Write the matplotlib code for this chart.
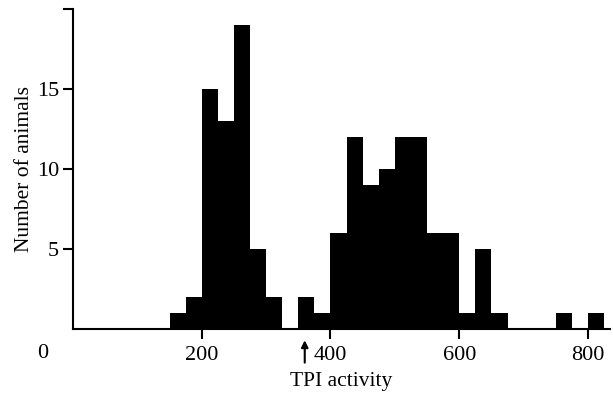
import matplotlib
matplotlib.use("Agg")
from matplotlib import pyplot as plt
import matplotlib.transforms as mtransforms

plt.rcParams['font.family'] = ['Liberation Serif', 'DejaVu Serif']

# histogram of TPI activity, bins of 25 units
bin_left = [150, 175, 200, 225, 250, 275, 300, 325, 350, 375,
            400, 425, 450, 475, 500, 525, 550, 575, 600, 625,
            650, 675, 700, 725, 750, 775, 800]
counts = [1, 2, 15, 13, 19, 5, 2, 0, 2, 1,
          6, 12, 9, 10, 12, 12, 6, 6, 1, 5,
          1, 0, 0, 0, 1, 0, 1]
bin_width = 25

xticks = [200, 400, 600, 800]
yticks = [5, 10, 15, 20]
yticklabels = ['5', '10', '15', '']
arrow_x = 360

fig = plt.figure(figsize=(6.13, 3.96), dpi=100)
ax = fig.add_axes([0.119, 0.169, 0.876, 0.808])

edges = bin_left + [bin_left[-1] + bin_width]
ax.stairs(counts, edges, fill=True, color='black', linewidth=0)

ax.set_xlim(0, 834)
ax.set_ylim(0, 20)
ax.spines['top'].set_visible(False)
ax.spines['right'].set_visible(False)
ax.spines['left'].set_linewidth(1.5)
ax.spines['bottom'].set_linewidth(1.5)

ax.set_xticks(xticks)
ax.set_xticklabels([str(t) for t in xticks], fontsize=16)
ax.set_yticks(yticks)
ax.set_yticklabels(yticklabels, fontsize=16)
ax.tick_params(axis='x', direction='out', length=7, width=1.5, pad=5)
ax.tick_params(axis='y', direction='out', length=7, width=1.5, pad=3)

ax.set_xlabel('TPI activity', fontsize=15.5, labelpad=5)
ax.set_ylabel('Number of animals', fontsize=15.5, labelpad=2)

# the lone "0" at the corner
fig.text(0.07, 0.108, '0', fontsize=16, ha='center', va='center')

# arrow under the axis
trans = mtransforms.blended_transform_factory(ax.transData, ax.transAxes)
ax.annotate('', xy=(arrow_x, -0.035), xytext=(arrow_x, -0.105),
            xycoords=trans, textcoords=trans, annotation_clip=False,
            arrowprops=dict(arrowstyle='-|>', color='black', lw=1.5,
                            mutation_scale=10, shrinkA=0, shrinkB=0))

fig.savefig('out.png', dpi=100)
